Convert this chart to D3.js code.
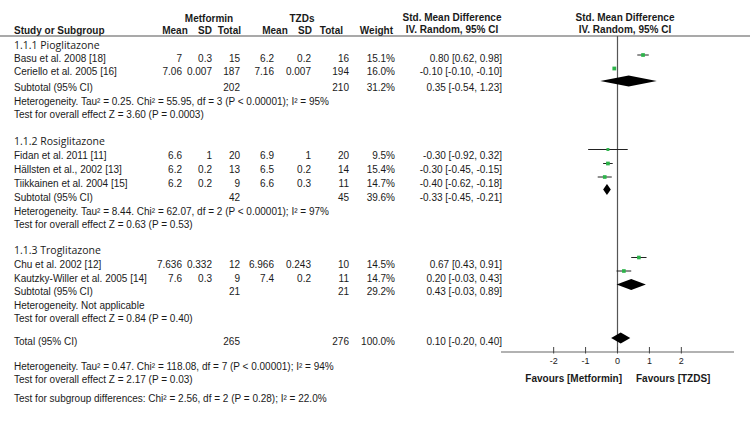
<!DOCTYPE html>
<html><head><meta charset="utf-8">
<script src="https://cdn.jsdelivr.net/npm/d3@7"></script>
<style>
html,body{margin:0;padding:0;background:#fff;}
svg{display:block;}
text{font-family:"Liberation Sans",Arial,sans-serif;fill:#1a1a1a;}
.b{font-weight:bold;}
.grp{font-family:"Open Sans","Noto Sans",sans-serif;}
</style></head>
<body>
<svg id="c" width="750" height="426"></svg>
<script>
// ---------- data ----------
const groupNames = ["1.1.1 Pioglitazone", "1.1.2 Rosiglitazone", "1.1.3 Troglitazone"];
const studyNames = ["Basu et al. 2008 [18]", "Ceriello et al. 2005 [16]", "Fidan et al. 2011 [11]",
  "Hällsten et al., 2002 [13]", "Tiikkainen et al. 2004 [15]", "Chu et al. 2002 [12]", "Kautzky-Willer et al. 2005 [14]"];
const studyGroup = [0, 0, 1, 1, 1, 2, 2];
const metMean = [7, 7.06, 6.6, 6.2, 6.2, 7.636, 7.6];
const metSD   = [0.3, 0.007, 1, 0.2, 0.2, 0.332, 0.3];
const metN    = [15, 187, 20, 13, 9, 12, 9];
const tzdMean = [6.2, 7.16, 6.9, 6.5, 6.6, 6.966, 7.4];
const tzdSD   = [0.2, 0.007, 1, 0.2, 0.3, 0.243, 0.2];
const tzdN    = [16, 194, 20, 14, 11, 10, 11];
const weights = [15.1, 16.0, 9.5, 15.4, 14.7, 14.5, 14.7];
const smd     = [0.80, -0.10, -0.30, -0.30, -0.40, 0.67, 0.20];
const ciLow   = [0.62, -0.10, -0.92, -0.45, -0.62, 0.43, -0.03];
const ciHigh  = [0.98, -0.10, 0.32, -0.15, -0.18, 0.91, 0.43];

const subMetN   = [202, 42, 21];
const subTzdN   = [210, 45, 21];
const subWeight = [31.2, 39.6, 29.2];
const subSmd    = [0.35, -0.33, 0.43];
const subLow    = [-0.54, -0.45, -0.03];
const subHigh   = [1.23, -0.21, 0.89];
const subHet = ["Heterogeneity. Tau² = 0.25. Chi² = 55.95, df = 3 (P < 0.00001); I² = 95%",
  "Heterogeneity. Tau² = 8.44. Chi² = 62.07, df = 2 (P < 0.00001); I² = 97%",
  "Heterogeneity. Not applicable"];
const subTest = ["Test for overall effect Z = 3.60 (P = 0.0003)",
  "Test for overall effect Z = 0.63 (P = 0.53)",
  "Test for overall effect Z = 0.84 (P = 0.40)"];

const totalMetN = 265, totalTzdN = 276, totalWeight = 100.0;
const totalSmd = 0.10, totalLow = -0.20, totalHigh = 0.40;
const totalHet = "Heterogeneity. Tau² = 0.47. Chi² = 118.08, df = 7 (P < 0.00001); I² = 94%";
const totalTest = "Test for overall effect Z = 2.17 (P = 0.03)";
const subgroupTest = "Test for subgroup differences: Chi² = 2.56, df = 2 (P = 0.28); I² = 22.0%";

const axisTicks = [-2, -1, 0, 1, 2];
const favoursLeft = "Favours [Metformin]", favoursRight = "Favours [TZDS]";

// ---------- layout ----------
const groupTitleY = [45, 141, 250];
const studyY = [58, 71, 155, 169, 183, 264, 278];
const markerY = [55, 68.5, 149.5, 163.5, 177, 257.5, 271];
const subtotalY = [87, 197, 291];
const diamondY = [81, 189.5, 284.5];
const hetY = [101, 211, 305];
const testY = [114, 224, 318];
const totalY = 341, totalDiamondY = 338, totalHetY = 366, totalTestY = 379, subgroupTestY = 398;

const col = {study:14, mMean:182, mSD:212, mN:240, tMean:274, tSD:311, tN:349, w:395, ci:502};

const svg = d3.select("#c");
const x = d3.scaleLinear().domain([-3.65, 3.65]).range([501, 734]);
const fmt = v => v.toFixed(2);
const ciTxt = (m, l, h) => `${fmt(m)} [${fmt(l)}, ${fmt(h)}]`;

function t(xp, yp, s, anchor, cls, size) {
  return svg.append("text").attr("x", xp).attr("y", yp).attr("dy", "0.35em")
    .attr("text-anchor", anchor || "start").attr("class", cls || null)
    .style("font-size", (size || 10) + "px").text(s);
}

// headers
t(209, 18, "Metformin", "middle", "b");
t(302, 18, "TZDs", "middle", "b");
t(col.study, 30, "Study or Subgroup", "start", "b");
t(175, 30, "Mean", "middle", "b");
t(212, 30, "SD", "end", "b");
t(241, 30, "Total", "end", "b");
t(275, 30, "Mean", "middle", "b");
t(312, 30, "SD", "end", "b");
t(343, 30, "Total", "end", "b");
t(393, 30, "Weight", "end", "b");
t(452, 17, "Std. Mean Difference", "middle", "b");
t(452, 29, "IV. Random, 95% CI", "middle", "b");
t(625, 17, "Std. Mean Difference", "middle", "b");
t(625, 29, "IV. Random, 95% CI", "middle", "b");

svg.append("line").attr("x1", 0).attr("x2", 750).attr("y1", 36).attr("y2", 36)
  .attr("stroke", "#555").attr("stroke-width", 1.2);

// zero line
svg.append("line").attr("x1", x(0)).attr("x2", x(0)).attr("y1", 36).attr("y2", 352)
  .attr("stroke", "#555").attr("stroke-width", 1.2);

// groups
groupNames.forEach((g, gi) => {
  t(col.study, groupTitleY[gi], g, "start", "grp", 10.5);
  t(col.study, subtotalY[gi], "Subtotal (95% CI)");
  t(col.mN, subtotalY[gi], subMetN[gi], "end");
  t(col.tN, subtotalY[gi], subTzdN[gi], "end");
  t(col.w, subtotalY[gi], subWeight[gi].toFixed(1) + "%", "end");
  t(col.ci, subtotalY[gi], ciTxt(subSmd[gi], subLow[gi], subHigh[gi]), "end");
  t(col.study, hetY[gi], subHet[gi]);
  t(col.study, testY[gi], subTest[gi]);
});

// studies
studyNames.forEach((s, i) => {
  const y = studyY[i];
  t(col.study, y, s);
  t(col.mMean, y, metMean[i], "end");
  t(col.mSD, y, metSD[i], "end");
  t(col.mN, y, metN[i], "end");
  t(col.tMean, y, tzdMean[i], "end");
  t(col.tSD, y, tzdSD[i], "end");
  t(col.tN, y, tzdN[i], "end");
  t(col.w, y, weights[i].toFixed(1) + "%", "end");
  t(col.ci, y, ciTxt(smd[i], ciLow[i], ciHigh[i]), "end");
  const my = markerY[i];
  svg.append("line").attr("x1", x(ciLow[i])).attr("x2", x(ciHigh[i]))
    .attr("y1", my).attr("y2", my).attr("stroke", "#222").attr("stroke-width", 1);
  const sz = Math.sqrt(weights[i]) * 0.95;
  svg.append("rect").attr("x", x(smd[i]) - sz / 2).attr("y", my - sz / 2)
    .attr("width", sz).attr("height", sz).attr("fill", "#2cb34a");
});

function diamond(m, l, h, yc) {
  const hh = 5.5;
  svg.append("path").attr("d",
    `M${x(l)},${yc} L${x(m)},${yc - hh} L${x(h)},${yc} L${x(m)},${yc + hh} Z`)
    .attr("fill", "#000");
}
groupNames.forEach((g, gi) => diamond(subSmd[gi], subLow[gi], subHigh[gi], diamondY[gi]));

// total
t(col.study, totalY, "Total (95% CI)");
t(col.mN, totalY, totalMetN, "end");
t(col.tN, totalY, totalTzdN, "end");
t(col.w, totalY, totalWeight.toFixed(1) + "%", "end");
t(col.ci, totalY, ciTxt(totalSmd, totalLow, totalHigh), "end");
diamond(totalSmd, totalLow, totalHigh, totalDiamondY);
t(col.study, totalHetY, totalHet);
t(col.study, totalTestY, totalTest);
t(col.study, subgroupTestY, subgroupTest);

// axis
const ax = svg.append("g").attr("transform", "translate(0,352)");
ax.append("line").attr("x1", x.range()[0]).attr("x2", x.range()[1])
  .attr("stroke", "#666").attr("stroke-width", 1.2);
axisTicks.forEach(v => {
  ax.append("line").attr("x1", x(v)).attr("x2", x(v)).attr("y1", -5).attr("y2", 1.5)
    .attr("stroke", "#444").attr("stroke-width", 1);
  ax.append("text").attr("x", x(v)).attr("y", 9).attr("dy", "0.35em")
    .attr("text-anchor", "middle").style("font-size", "9px").text(String(v));
});
t(622, 378, favoursLeft, "end", "b");
t(636, 378, favoursRight, "start", "b");
</script>
</body></html>
